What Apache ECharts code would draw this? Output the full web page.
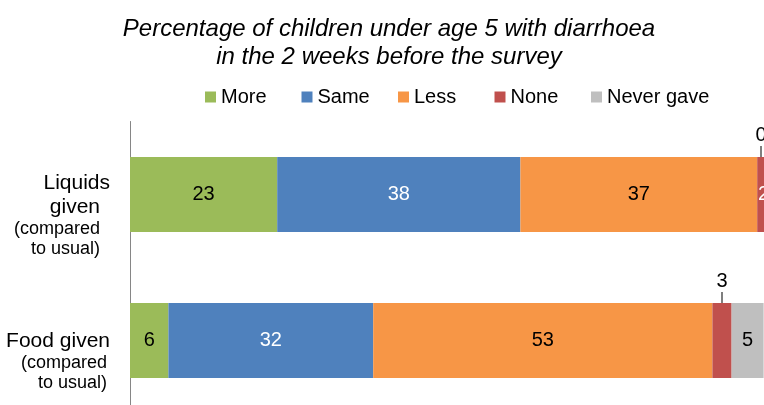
<!DOCTYPE html>
<html><head><meta charset="utf-8">
<script src="https://cdn.jsdelivr.net/npm/echarts@6/dist/echarts.min.js"></script>
<style>html,body{margin:0;padding:0;background:#fff}#c{width:764px;height:405px}</style>
</head><body><div id="c"></div>
<script>
const categories = ['Liquids given', 'Food given'];
const seriesNames = ['More', 'Same', 'Less', 'None', 'Never gave'];
const more = [23, 6];
const same = [38, 32];
const less = [37, 53];
const none = [2, 3];
const neverGave = [0, 5];

const values = [more, same, less, none, neverGave];
const colors = ['#9BBB59', '#4F81BD', '#F79646', '#C0504D', '#BFBFBF'];
const labelColors = ['#000', '#fff', '#000', '#fff', '#000'];
const FONT = 'Liberation Sans, Arial, sans-serif';

function outsideLabel(extraOffset) {
  return {
    show: true, position: 'top', distance: 0, offset: extraOffset,
    formatter: p => '{v|' + p.value + '}\n{l|}',
    rich: {
      v: { fontSize: 20, color: '#000', fontFamily: FONT, lineHeight: 22, align: 'center' },
      l: { width: 1, height: 11, backgroundColor: '#000', align: 'center' }
    }
  };
}

const series = values.map((arr, si) => ({
  name: seriesNames[si], type: 'bar', stack: 'total', barWidth: 75,
  itemStyle: { color: colors[si] },
  clip: false,
  label: { show: true, position: 'inside', color: labelColors[si], fontSize: 20, fontFamily: FONT },
  data: arr.map((v, ci) => {
    const item = { value: v };
    if (si === 3 && ci === 1) item.label = outsideLabel([0, 0]);
    if (si === 4 && ci === 0) item.label = outsideLabel([-9, 0]);
    return item;
  })
}));

const legends = seriesNames.map((name, i) => ({
  data: [name], left: 205 + i * 96.5, top: 87, itemWidth: 11, itemHeight: 11,
  icon: 'rect', padding: 0,
  textStyle: { fontSize: 20, color: '#000', fontFamily: FONT, padding: [0, 0, 0, 0] }
}));

const chart = echarts.init(document.getElementById('c'));
chart.setOption({
  animation: false,
  textStyle: { fontFamily: FONT },
  title: {
    text: 'Percentage of children under age 5 with diarrhoea\nin the 2 weeks before the survey',
    left: 384, top: 10, textAlign: 'center',
    textStyle: { fontSize: 24, fontStyle: 'italic', fontWeight: 'normal', color: '#000', lineHeight: 28, fontFamily: FONT }
  },
  legend: legends,
  grid: { left: 130, width: 640, top: 121.5, height: 292, containLabel: false, outerBoundsMode: 'none' },
  xAxis: { type: 'value', min: 0, max: 100, show: false },
  yAxis: {
    type: 'category', data: categories, inverse: true,
    axisLine: { show: true, lineStyle: { color: '#868686', width: 1 } },
    axisTick: { show: false },
    axisLabel: {
      margin: 20, align: 'right', padding: [42, 0, 0, 0],
      formatter: v => v === 'Liquids given'
        ? '{a|Liquids}\n{c|given}\n{b|(compared}\n{b|to usual)}'
        : '{a|Food given}\n{d|(compared}\n{d|to usual)}',
      rich: {
        a: { fontSize: 21, color: '#000', lineHeight: 24, fontFamily: FONT },
        c: { fontSize: 21, color: '#000', lineHeight: 24, fontFamily: FONT, padding: [0, 10, 0, 0] },
        b: { fontSize: 18, color: '#000', lineHeight: 20, fontFamily: FONT, padding: [0, 10, 0, 0] },
        d: { fontSize: 18, color: '#000', lineHeight: 20, fontFamily: FONT, padding: [0, 3, 0, 0] }
      }
    }
  },
  series: series
});
</script></body></html>
